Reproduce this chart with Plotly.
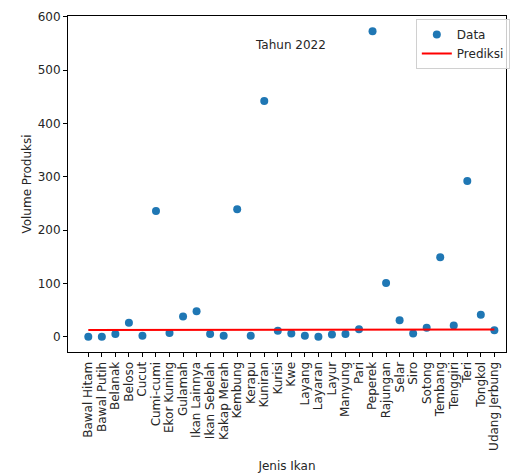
import plotly.graph_objects as go

jenis_ikan = ["Bawal Hitam", "Bawal Putih", "Belanak", "Beloso", "Cucut", "Cumi-cumi",
              "Ekor Kuning", "Gulamah", "Ikan Lainnya", "Ikan Sebelah", "Kakap Merah",
              "Kembung", "Kerapu", "Kuniran", "Kurisi", "Kwe", "Layang", "Layaran", "Layur",
              "Manyung", "Pari", "Peperek", "Rajungan", "Selar", "Siro", "Sotong", "Tembang",
              "Tenggiri", "Teri", "Tongkol", "Udang Jerbung"]
volume_data = [0, 0, 5, 26, 2, 236, 7, 38, 48, 5, 2, 239, 2, 442, 11, 6, 2, 0, 4, 5,
               14, 573, 101, 31, 6, 17, 149, 21, 292, 41, 12]
prediksi = [12.5, 12.5, 12.6, 12.6, 12.7, 12.7, 12.8, 12.8, 12.8, 12.9, 12.9, 13.0, 13.0,
            13.0, 13.1, 13.1, 13.2, 13.2, 13.2, 13.3, 13.3, 13.4, 13.4, 13.4, 13.5, 13.5,
            13.6, 13.6, 13.6, 13.7, 13.7]
y_ticks = [0, 100, 200, 300, 400, 500, 600]

FONT = "DejaVu Sans"
FS = 12
idx = list(range(len(jenis_ikan)))

fig = go.Figure()
fig.add_trace(go.Scatter(x=idx, y=volume_data, mode="markers", name="Data",
                         marker=dict(color="#1f77b4", size=8), legendrank=1))
fig.add_trace(go.Scatter(x=idx, y=prediksi, mode="lines", name="Prediksi",
                         line=dict(color="red", width=2), legendrank=2))

fig.update_layout(
    width=510, height=473,
    margin=dict(l=68, r=0, t=16, b=121),
    plot_bgcolor="white", paper_bgcolor="white",
    font=dict(family=FONT, size=FS, color="#262626"),
    showlegend=True,
    legend=dict(x=(419 - 68) / 442, y=1 - (19 - 16) / 336, xanchor="left", yanchor="top",
                bgcolor="rgba(255,255,255,0.8)", bordercolor="#d0d0d0", borderwidth=1,
                font=dict(size=FS, family=FONT), tracegroupgap=0, itemwidth=30),
    annotations=[dict(text="Tahun 2022", x=(292.7 - 68) / 442, y=1 - (45 - 16) / 336,
                      xref="paper", yref="paper", showarrow=False,
                      xanchor="center", yanchor="middle",
                      font=dict(size=FS, family=FONT, color="#262626"))],
)
fig.update_xaxes(
    range=[-1.5, 30.86], tickmode="array", tickvals=idx, ticktext=jenis_ikan,
    tickangle=-90, ticks="outside", ticklen=4, tickcolor="black",
    showline=True, linecolor="black", linewidth=1, mirror=True, showgrid=False,
    zeroline=False, automargin=False, tickfont=dict(size=FS, family=FONT),
    title=dict(text="Jenis Ikan", font=dict(size=FS, family=FONT), standoff=12),
)
fig.update_yaxes(
    range=[-28.65, 601.65], tickmode="array", tickvals=y_ticks,
    ticks="outside", ticklen=4, tickcolor="black",
    showline=True, linecolor="black", linewidth=1, mirror=True, showgrid=False,
    zeroline=False, automargin=False, tickfont=dict(size=FS, family=FONT),
    title=dict(text="Volume Produksi", font=dict(size=FS, family=FONT), standoff=3),
)

fig.write_html("out.html", config={"displayModeBar": False},
               post_script="document.body.style.margin='0';document.body.style.overflow='hidden';")
